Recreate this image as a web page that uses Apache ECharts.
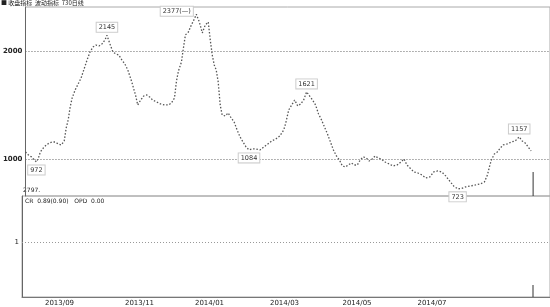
<!DOCTYPE html>
<html><head><meta charset="utf-8">
<script src="https://cdn.jsdelivr.net/npm/echarts@6/dist/echarts.min.js"></script>
<style>html,body{margin:0;padding:0;background:#fff}#c{width:550px;height:307px}</style>
</head><body><div id="c"></div>
<script>
// session index (x) and closing values
const bars = [0,1.2,2.4,3.6,4.4,5.2,6,7.2,8.4,9.6,
10.8,12,13.2,14.4,15.6,16.4,17.2,18,18.8,20,
21.2,22.4,23.6,24.8,26,27.2,28.4,29.6,30.8,32,
32.8,34,35.2,36.4,37.6,38.8,40,41.2,42,42.8,
43.6,44.4,45.2,46.4,47.6,48.8,50,51.2,52.8,54.4,
56,57.6,58.8,60,60.8,61.6,62.8,63.6,64.4,65.6,
66.8,68,68.8,70,71.2,72.4,73.6,74.4,75.2,76,
76.8,77.6,78.4,79.2,80.4,81.6,82.8,84,85.2,86.4,
87.6,88.8,90,91.2,92.8,94.4,96,97.6,99.2,100.8,
102.4,104,104.8,106,107.2,108.4,109.6,110.8,112,113.2,
114.4,115.6,116.8,118,119.2,120.4,121.6,122.8,124,125.2,
126.4,127.6,128.8,130,131.2,132.4,133.6,134.8,136,137.2,
138.4,139.6,140.8,142,143.2,144.8,146.4,148,149.6,151.2,
152.4,153.6,154.8,156.4,158,159.6,161.2,162.8,164.4,166,
167.6,169.2,170.8,172.4,174,175.6,177.2,179.2,181.2,183.2,
184.8,186,186.8,187.6,188.8,190,191.2,192.4,194,195.6,
197.2,198.8,200,201.2,202.4,203.6];
const closes = [1065,1037,1019,991,972,1009,1065,1102,1130,1148,
1157,1157,1139,1130,1167,1287,1361,1481,1565,1639,
1694,1750,1833,1917,1991,2037,2055,2046,2065,2102,
2145,2065,1991,1972,1963,1917,1880,1824,1769,1713,
1648,1583,1500,1546,1583,1593,1574,1546,1528,1509,
1500,1500,1519,1565,1722,1815,1898,2028,2148,2176,
2241,2296,2340,2268,2167,2241,2268,2102,1963,1870,
1824,1713,1500,1407,1398,1426,1380,1343,1269,1204,
1157,1111,1084,1093,1093,1083,1111,1139,1167,1185,
1213,1269,1333,1454,1500,1546,1491,1509,1546,1621,
1583,1546,1500,1417,1361,1296,1231,1157,1083,1028,
991,935,926,944,963,944,944,991,1019,1009,
981,1000,1028,1009,1000,972,954,935,944,972,
1000,944,917,880,870,852,824,833,880,889,
880,843,796,750,723,728,741,750,759,769,
787,852,926,991,1046,1065,1102,1130,1139,1157,
1167,1204,1167,1148,1111,1074];
// annotated extremes
const peakIdx = [4, 30, 62, 82, 99, 144, 161];
const peakText = ['972', '2145', '2377(—)', '1084', '1621', '723', '1157'];
const peakPos = ['bottom', 'top', 'left', 'bottom', 'top', 'bottom', 'top'];
// axis ticks
const xTickBars = [15, 47, 75, 105, 134, 164];
const xTickLabels = ['2013/09', '2013/11', '2014/01', '2014/03', '2014/05', '2014/07'];
const yTicks = [1000, 2000];
const subTicks = [1];
// last session volume-like markers
const lastBar = [204.4];
const lastTop = [880];
const lastSub = [0.22];

const FONT = 'DejaVu Sans';
const chart = echarts.init(document.getElementById('c'), null, {renderer: 'canvas'});
const lineData = bars.map((b, i) => [b, closes[i]]);
const marks = peakIdx.map((k, j) => ({
  coord: [bars[k], closes[k]],
  label: {formatter: peakText[j], position: peakPos[j], offset: peakPos[j] === 'left' ? [0, -3] : [0, 0]}
}));

chart.setOption({
  animation: false,
  backgroundColor: '#fff',
  grid: [
    {left: 22, right: -2, top: 7, height: 189, show: true, borderColor: '#aaa', borderWidth: 1},
    {left: 22, right: -2, top: 196, height: 101, show: true, borderColor: '#aaa', borderWidth: 1}
  ],
  xAxis: [
    {type: 'value', gridIndex: 0, min: 0, max: 211.2, axisLine: {show: false}, axisTick: {show: false},
     axisLabel: {show: false}, splitLine: {show: false}},
    {type: 'value', gridIndex: 1, min: 0, max: 211.2,
     axisLine: {show: true, lineStyle: {color: '#777'}}, axisTick: {show: false},
     axisLabel: {show: true, customValues: xTickBars, margin: 3, fontSize: 7, color: '#222', fontFamily: FONT,
       formatter: v => xTickLabels[xTickBars.indexOf(v)] || ''},
     splitLine: {show: false}}
  ],
  yAxis: [
    {type: 'value', gridIndex: 0, min: 657, max: 2407,
     axisLine: {show: true, lineStyle: {color: '#666'}}, axisTick: {show: false, customValues: yTicks},
     axisLabel: {customValues: yTicks, fontSize: 7, fontWeight: 'bold', color: '#222', margin: 3, fontFamily: FONT,
       formatter: v => String(v)},
     splitLine: {show: false}},
    {type: 'value', gridIndex: 1, min: 0, max: 1.84,
     axisLine: {show: true, lineStyle: {color: '#666'}}, axisTick: {show: false, customValues: subTicks},
     axisLabel: {customValues: subTicks, fontSize: 7, color: '#222', margin: 3, fontFamily: FONT,
       formatter: v => String(v)},
     splitLine: {show: false}}
  ],
  series: [
    {type: 'line', xAxisIndex: 0, yAxisIndex: 0, data: lineData, symbol: 'none', silent: true,
     lineStyle: {color: '#555', width: 1.3, type: [1.5, 1.8]},
     markLine: {symbol: 'none', silent: true, label: {show: false},
       lineStyle: {color: '#666', type: [1, 2], width: 1},
       data: yTicks.map(v => ({yAxis: v}))},
     markPoint: {symbol: 'circle', symbolSize: 1, itemStyle: {color: 'rgba(0,0,0,0)'},
       label: {show: true, fontSize: 6.5, color: '#333', fontFamily: FONT, distance: 3,
         backgroundColor: '#fff', borderColor: '#ccc', borderWidth: 1, padding: [1, 2]},
       data: marks}},
    {type: 'bar', xAxisIndex: 0, yAxisIndex: 0, barWidth: 1, silent: true,
     itemStyle: {color: '#333'}, data: lastBar.map((b, i) => [b, lastTop[i]])},
    {type: 'bar', xAxisIndex: 1, yAxisIndex: 1, barWidth: 1, silent: true,
     itemStyle: {color: '#333'}, data: lastBar.map((b, i) => [b, lastSub[i]]),
     markLine: {symbol: 'none', silent: true, label: {show: false},
       lineStyle: {color: '#999', type: [1, 2], width: 1},
       data: subTicks.map(v => ({yAxis: v}))}}
  ],
  graphic: [
    {type: 'text', left: 1, top: 0, style: {text: '■ 收盘指标  波动指标  730日线', fontSize: 6, fill: '#222', fontFamily: 'Noto Sans CJK SC'}},
    {type: 'text', left: 23, top: 187, style: {text: '2797.', fontSize: 6, fill: '#222', fontFamily: FONT}},
    {type: 'text', left: 25, top: 198, style: {text: 'CR  0.89(0.90)   OPD  0.00', fontSize: 6, fill: '#222', fontFamily: FONT}}
  ]
});
</script></body></html>
